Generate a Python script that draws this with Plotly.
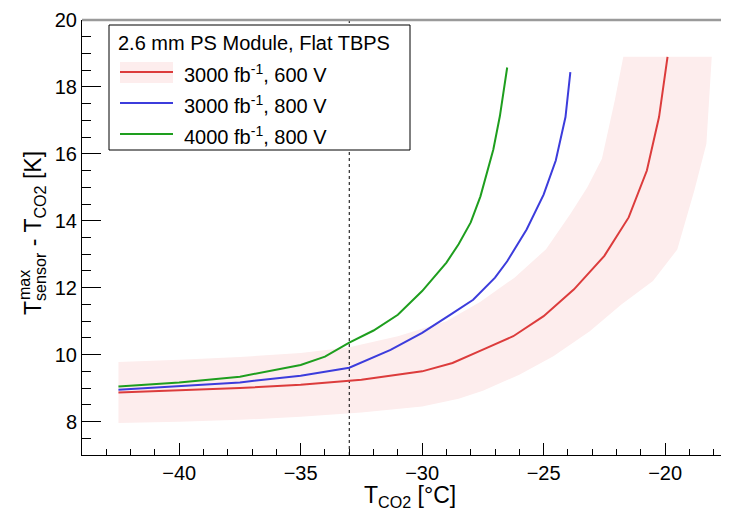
import plotly.graph_objects as go

# ---------------- data ----------------
red_x = [-42.5, -40, -37.5, -35, -32.5, -30, -28.75, -27.5, -26.25, -25, -23.75, -22.5, -21.5, -20.75, -20.25, -19.9]
red_y = [8.87, 8.93, 9.0, 9.1, 9.25, 9.5, 9.75, 10.15, 10.55, 11.15, 11.95, 12.95, 14.1, 15.5, 17.1, 18.9]

blue_x = [-42.5, -40, -37.5, -35, -33, -31.3, -30, -28.85, -27.9, -27, -26.5, -25.7, -25, -24.5, -24.1, -23.9]
blue_y = [8.95, 9.05, 9.17, 9.37, 9.61, 10.14, 10.65, 11.19, 11.64, 12.3, 12.79, 13.74, 14.78, 15.8, 17.1, 18.44]

green_x = [-42.5, -40, -37.5, -35, -34, -33, -32, -31, -30, -29, -28.5, -28, -27.6, -27.07, -26.8, -26.5]
green_y = [9.05, 9.17, 9.34, 9.69, 9.94, 10.36, 10.72, 11.19, 11.9, 12.75, 13.3, 13.95, 14.73, 16.13, 17.13, 18.58]

band_up_x = [-42.5, -40, -37.5, -35, -33, -31, -29, -27.6, -26.2, -24.9, -23.9, -23.2, -22.6, -22.07, -21.72]
band_up_y = [9.78, 9.85, 9.93, 10.05, 10.22, 10.55, 11.0, 11.58, 12.3, 13.15, 14.2, 15.0, 15.85, 17.6, 18.9]

band_lo_x = [-42.5, -40, -37.5, -35, -32.5, -30, -28.5, -27.5, -26, -24.6, -23.1, -21.8, -20.5, -19.5, -18.8, -18.3, -18.08]
band_lo_y = [7.96, 7.99, 8.05, 8.14, 8.27, 8.45, 8.68, 8.92, 9.4, 9.95, 10.7, 11.5, 12.2, 13.14, 14.9, 16.3, 18.9]

ref_temp = -33
legend_header = "2.6 mm PS Module, Flat TBPS"
series_labels = ["3000 fb<sup>-1</sup>, 600 V", "3000 fb<sup>-1</sup>, 800 V", "4000 fb<sup>-1</sup>, 800 V"]
series_colors = ["#dc3c3c", "#3c3cdc", "#1e9e1e"]
band_color = "#fdeded"

x_range = [-44, -17.37]
y_range = [7, 20]

# ---------------- layout geometry (page pixels) ----------------
PAGE_W, PAGE_H = 729, 513
OFF = 8                      # default body margin of the html page
L, R, T, B = 82, 729, 20, 455  # plot area in page pixels
PW, PH = R - L, B - T
FONT = "Liberation Sans, Arial, Helvetica, sans-serif"


def px(xp):
    return (xp - L) / PW


def py(yp):
    return (B - yp) / PH


fig = go.Figure()

# band
fig.add_trace(go.Scatter(
    x=band_up_x + band_lo_x[::-1], y=band_up_y + band_lo_y[::-1],
    fill="toself", fillcolor=band_color, mode="none", hoverinfo="skip", showlegend=False))

# reference dotted line
fig.add_trace(go.Scatter(x=[ref_temp, ref_temp], y=y_range, mode="lines",
                         line=dict(color="black", width=1, dash="dot"), showlegend=False))

for xs, ys, c in [(red_x, red_y, series_colors[0]), (blue_x, blue_y, series_colors[1]),
                  (green_x, green_y, series_colors[2])]:
    fig.add_trace(go.Scatter(x=xs, y=ys, mode="lines", line=dict(color=c, width=2), showlegend=False))

shapes = []
annotations = []

# top frame line
shapes.append(dict(type="line", xref="paper", yref="paper", x0=0, x1=1, y0=1, y1=1,
                   line=dict(color="#9a9a9a", width=2.5), layer="above"))

# legend box
lx0, lx1, ly0, ly1 = 109, 410, 25, 150
shapes.append(dict(type="rect", xref="paper", yref="paper", x0=px(lx0), x1=px(lx1), y0=py(ly1), y1=py(ly0),
                   fillcolor="white", line=dict(color="black", width=1), layer="above"))
annotations.append(dict(xref="paper", yref="paper", x=px(116), y=py(43), xanchor="left", yanchor="middle",
                        text=legend_header, showarrow=False, font=dict(family=FONT, size=20, color="black")))
entry_y = [72, 103, 134]
for i, (lab, c) in enumerate(zip(series_labels, series_colors)):
    yy = entry_y[i]
    if i == 0:
        shapes.append(dict(type="rect", xref="paper", yref="paper", x0=px(120), x1=px(173),
                           y0=py(yy + 11), y1=py(yy - 10), fillcolor=band_color, line=dict(width=0), layer="above"))
    shapes.append(dict(type="line", xref="paper", yref="paper", x0=px(120), x1=px(173), y0=py(yy), y1=py(yy),
                       line=dict(color=c, width=2), layer="above"))
    annotations.append(dict(xref="paper", yref="paper", x=px(182), y=py(yy + 1), xanchor="left", yanchor="middle",
                            text=lab, showarrow=False, font=dict(family=FONT, size=20, color="black")))

# axis titles
annotations.append(dict(xref="paper", yref="paper", x=px(410), y=py(496), xanchor="center", yanchor="middle",
                        text="T<sub>CO2</sub> [°C]", showarrow=False, font=dict(family=FONT, size=23, color="black")))
annotations.append(dict(xref="paper", yref="paper", x=px(34), y=py(233), xanchor="center", yanchor="middle",
                        textangle=-90, text="T<sub>sensor</sub> - T<sub>CO2</sub> [K]", showarrow=False,
                        font=dict(family=FONT, size=23, color="black")))
annotations.append(dict(xref="paper", yref="paper", x=px(24), y=py(302), xanchor="center", yanchor="bottom",
                        textangle=-90, text="max", showarrow=False,
                        font=dict(family=FONT, size=16, color="black")))

fig.update_layout(
    template="none",
    width=PAGE_W - OFF, height=PAGE_H - OFF,
    margin=dict(l=L - OFF, r=PAGE_W - R, t=T - OFF, b=PAGE_H - B, pad=0, autoexpand=False),
    paper_bgcolor="white", plot_bgcolor="white",
    font=dict(family=FONT, size=20, color="black"),
    shapes=shapes, annotations=annotations,
    xaxis=dict(range=x_range, automargin=False, showgrid=False, zeroline=False, showline=True,
               linecolor="black", linewidth=1,
               ticks="inside", ticklen=12, tickcolor="black", tickwidth=1, tick0=0, dtick=5,
               tickfont=dict(family=FONT, size=20),
               minor=dict(ticks="inside", ticklen=6, dtick=1, tickcolor="black", showgrid=False)),
    yaxis=dict(range=y_range, automargin=False, showgrid=False, zeroline=False, showline=True,
               linecolor="black", linewidth=1,
               ticks="inside", ticklen=19, tickcolor="black", tickwidth=1, tick0=0, dtick=2,
               tickfont=dict(family=FONT, size=20),
               minor=dict(ticks="inside", ticklen=9, dtick=0.5, tickcolor="black", showgrid=False)),
)

fig.write_html("out.html")
